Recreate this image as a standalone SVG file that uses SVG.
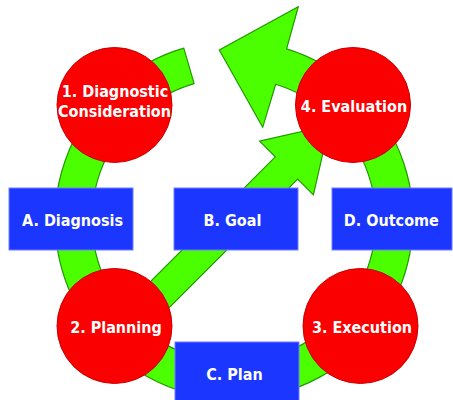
<svg xmlns="http://www.w3.org/2000/svg" width="453" height="400" viewBox="0 0 453 400">
<style>
.arrow{fill:#4cff00;stroke:#1f9a00;stroke-width:1.2;stroke-linejoin:miter}
.step{fill:#fa0000;stroke:#c80000;stroke-width:1}
.box{fill:#1a36ff;stroke:#6f7dff;stroke-width:1}
.lbl{font-family:"DejaVu Sans Condensed","DejaVu Sans",sans-serif;font-stretch:condensed;font-weight:bold;font-size:16px;fill:#ffffff;text-anchor:middle}
</style>
<rect width="453" height="400" fill="#ffffff"/>
<g id="connectors">
<path class="arrow" d="M183.8,48.2 A179,179 0 1 0 286.6,48.9 L298.3,6.7 L219.3,50 L262.7,127.3 L275.7,84.3 A142,142 0 1 1 194.1,83.7 Z"/>
<polygon class="arrow" points="329.3,125.2 313.4,194.9 297.7,179.2 135.4,341.5 113,319.1 275.3,156.8 259.6,141.1"/>
</g>
<g id="boxA"><rect class="box" x="9" y="188" width="124" height="62"/><text class="lbl" x="72.5" y="225.5">A. Diagnosis</text></g>
<g id="boxB"><rect class="box" x="174" y="188" width="124" height="62"/><text class="lbl" x="232.5" y="225.5">B. Goal</text></g>
<g id="boxC"><rect class="box" x="175" y="342" width="124" height="70"/><text class="lbl" x="234.5" y="379.5">C. Plan</text></g>
<g id="boxD"><rect class="box" x="332" y="188" width="120" height="62"/><text class="lbl" x="391.3" y="225.5">D. Outcome</text></g>
<g id="step1"><circle class="step" cx="114.5" cy="105" r="57.5"/><text class="lbl" x="115" y="97">1. Diagnostic</text><text class="lbl" x="114.5" y="116.5">Consideration</text></g>
<g id="step2"><circle class="step" cx="114.5" cy="326" r="57.5"/><text class="lbl" x="116" y="333">2. Planning</text></g>
<g id="step3"><circle class="step" cx="360.5" cy="326" r="57.5"/><text class="lbl" x="362" y="333">3. Execution</text></g>
<g id="step4"><circle class="step" cx="353" cy="105" r="57.5"/><text class="lbl" x="354" y="112">4. Evaluation</text></g>
</svg>
